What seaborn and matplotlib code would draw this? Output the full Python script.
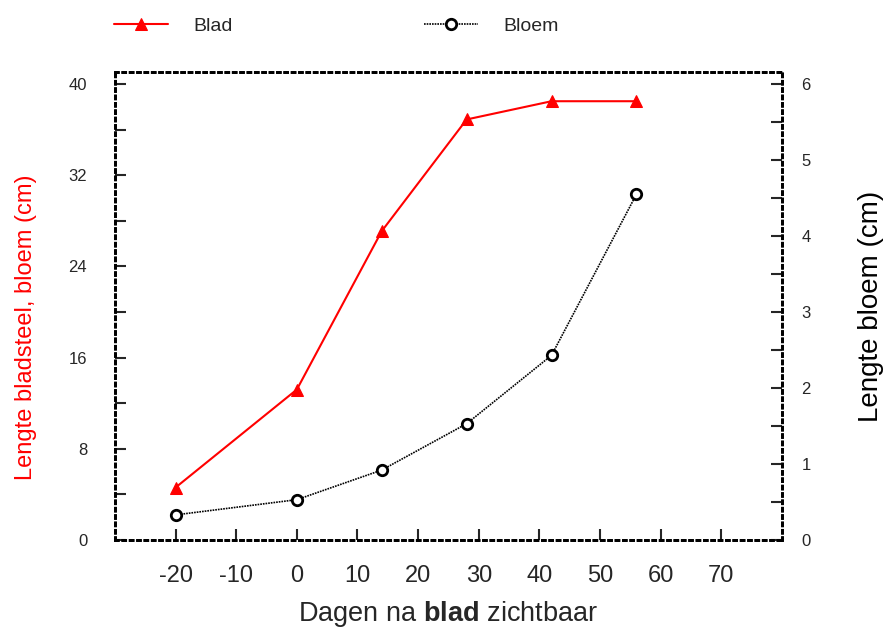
import numpy as np
import pandas as pd
import seaborn as sns
import matplotlib.pyplot as plt
from matplotlib.ticker import MultipleLocator

# data
dagen = [-20, 0, 14, 28, 42, 56]
blad = [4.6, 13.2, 27.1, 36.9, 38.5, 38.5]
bloem = [0.33, 0.53, 0.92, 1.53, 2.43, 4.55]

x_ticks = [-20, -10, 0, 10, 20, 30, 40, 50, 60, 70]
left_ticks = [0, 8, 16, 24, 32, 40]
right_ticks = [0, 1, 2, 3, 4, 5, 6]

df = pd.DataFrame({'dagen': dagen, 'blad': blad, 'bloem': bloem})

sns.set_style('ticks')
plt.rcParams['font.family'] = ['Liberation Sans', 'DejaVu Sans']
plt.rcParams['mathtext.fontset'] = 'custom'
plt.rcParams['mathtext.rm'] = 'Liberation Sans'
plt.rcParams['mathtext.bf'] = 'Liberation Sans:bold'

fig = plt.figure(figsize=(8.84, 6.33), dpi=100)
ax = fig.add_axes([0.130, 0.147, 0.7546, 0.739])
ax2 = ax.twinx()

sns.lineplot(data=df, x='dagen', y='blad', ax=ax, color='red', lw=1.5,
             marker='^', markersize=9, markeredgecolor='red', label='Blad', legend=False)
sns.lineplot(data=df, x='dagen', y='bloem', ax=ax2, color='black', lw=1.2,
             linestyle=(0, (1, 0.6)), marker='o', markersize=7.5,
             markerfacecolor='white', markeredgecolor='black', markeredgewidth=2,
             label='Bloem', legend=False)

ax.set_xlim(-30, 80)
ax.set_ylim(0, 41.05)
ax2.set_ylim(0, 6.157)

ax.set_xticks(x_ticks)
ax.set_xticklabels([str(t) for t in x_ticks], fontsize=17)
ax.set_yticks(left_ticks)
ax.set_yticklabels([str(t) for t in left_ticks], fontsize=12)
ax.yaxis.set_minor_locator(MultipleLocator(4))
ax2.set_yticks(right_ticks)
ax2.set_yticklabels([str(t) for t in right_ticks], fontsize=12)
ax2.yaxis.set_minor_locator(MultipleLocator(0.5))

ax.tick_params(axis='x', direction='in', length=8, width=1.5, pad=18)
ax.tick_params(axis='y', which='major', direction='in', length=8, width=1.5, pad=20)
ax.tick_params(axis='y', which='minor', direction='in', length=8, width=1.5)
ax2.tick_params(axis='y', which='major', direction='in', length=8, width=1.5, pad=14)
ax2.tick_params(axis='y', which='minor', direction='in', length=8, width=1.5)

for a in (ax, ax2):
    for s in a.spines.values():
        s.set_visible(True)
        s.set_linestyle(':')
        s.set_linewidth(2)
        s.set_color('black')

ax.set_ylabel('Lengte bladsteel, bloem (cm)', color='red', fontsize=17)
ax.yaxis.set_label_coords(-0.117, 0.455)
ax2.set_ylabel('Lengte bloem (cm)', color='black', fontsize=20, labelpad=34)
ax.set_xlabel(r'Dagen na $\mathbf{blad}$ zichtbaar', fontsize=19.5, labelpad=9)

h1, l1 = ax.get_legend_handles_labels()
h2, l2 = ax2.get_legend_handles_labels()
fig.legend(h1 + h2, l1 + l2, loc='upper left', bbox_to_anchor=(0.109, 1.0),
           ncol=2, frameon=False, fontsize=14, handlelength=2.8,
           columnspacing=9.8, handletextpad=1.3)

fig.savefig('out.png', dpi=100)
